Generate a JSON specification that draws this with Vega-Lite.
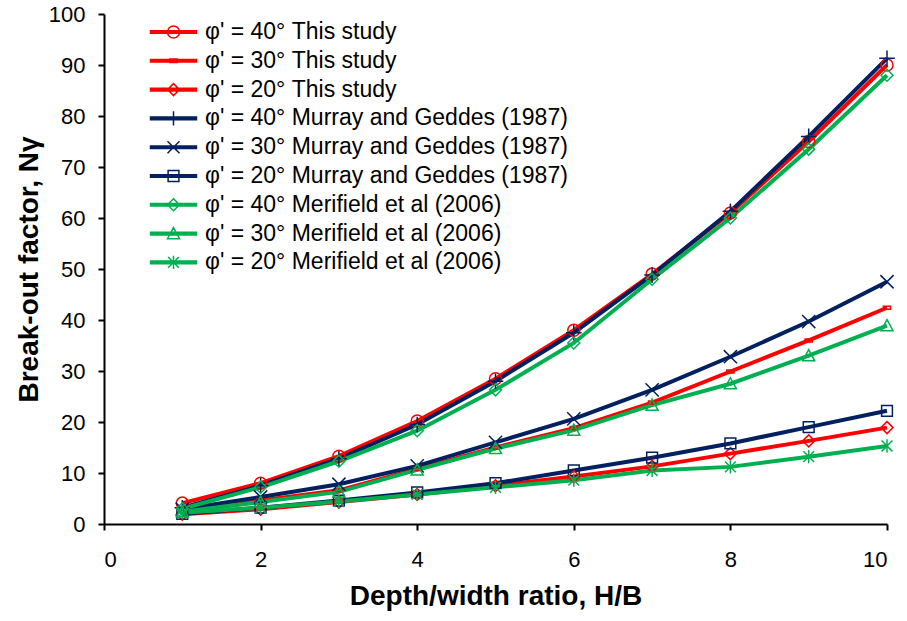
{
  "$schema": "https://vega.github.io/schema/vega-lite/v6.json",
  "width": 783,
  "height": 510,
  "autosize": "none",
  "padding": {"left": 104, "top": 14, "right": 20, "bottom": 97},
  "background": "white",
  "config": {
    "view": {"stroke": null},
    "font": "Liberation Sans",
    "axis": {
      "grid": false,
      "domainColor": "black",
      "domainWidth": 2,
      "tickColor": "black",
      "tickWidth": 2,
      "tickSize": 6,
      "labelFont": "Liberation Sans",
      "labelFontSize": 22,
      "labelColor": "black",
      "titleFont": "Liberation Sans",
      "titleFontSize": 28,
      "titleFontWeight": "bold",
      "titleColor": "black"
    },
    "point": {"filled": false, "strokeWidth": 1.5, "size": 144, "opacity": 1}
  },
  "data": {
    "values": [
      {"s": "φ' = 40° This study", "x": 1, "y": 4.1}, {"s": "φ' = 40° This study", "x": 2, "y": 8.0}, {"s": "φ' = 40° This study", "x": 3, "y": 13.3}, {"s": "φ' = 40° This study", "x": 4, "y": 20.2}, {"s": "φ' = 40° This study", "x": 5, "y": 28.5}, {"s": "φ' = 40° This study", "x": 6, "y": 38.0}, {"s": "φ' = 40° This study", "x": 7, "y": 49.0}, {"s": "φ' = 40° This study", "x": 8, "y": 61.0}, {"s": "φ' = 40° This study", "x": 9, "y": 75.0}, {"s": "φ' = 40° This study", "x": 10, "y": 90.0},
      {"s": "φ' = 30° This study", "x": 1, "y": 2.5}, {"s": "φ' = 30° This study", "x": 2, "y": 4.6}, {"s": "φ' = 30° This study", "x": 3, "y": 6.6}, {"s": "φ' = 30° This study", "x": 4, "y": 10.8}, {"s": "φ' = 30° This study", "x": 5, "y": 15.0}, {"s": "φ' = 30° This study", "x": 6, "y": 18.8}, {"s": "φ' = 30° This study", "x": 7, "y": 23.8}, {"s": "φ' = 30° This study", "x": 8, "y": 29.9}, {"s": "φ' = 30° This study", "x": 9, "y": 36.0}, {"s": "φ' = 30° This study", "x": 10, "y": 42.4},
      {"s": "φ' = 20° This study", "x": 1, "y": 1.9}, {"s": "φ' = 20° This study", "x": 2, "y": 2.9}, {"s": "φ' = 20° This study", "x": 3, "y": 4.3}, {"s": "φ' = 20° This study", "x": 4, "y": 5.8}, {"s": "φ' = 20° This study", "x": 5, "y": 7.5}, {"s": "φ' = 20° This study", "x": 6, "y": 9.3}, {"s": "φ' = 20° This study", "x": 7, "y": 11.3}, {"s": "φ' = 20° This study", "x": 8, "y": 13.8}, {"s": "φ' = 20° This study", "x": 9, "y": 16.3}, {"s": "φ' = 20° This study", "x": 10, "y": 18.9},
      {"s": "φ' = 40° Murray and Geddes (1987)", "x": 1, "y": 3.2}, {"s": "φ' = 40° Murray and Geddes (1987)", "x": 2, "y": 7.5}, {"s": "φ' = 40° Murray and Geddes (1987)", "x": 3, "y": 12.8}, {"s": "φ' = 40° Murray and Geddes (1987)", "x": 4, "y": 19.5}, {"s": "φ' = 40° Murray and Geddes (1987)", "x": 5, "y": 28.0}, {"s": "φ' = 40° Murray and Geddes (1987)", "x": 6, "y": 37.5}, {"s": "φ' = 40° Murray and Geddes (1987)", "x": 7, "y": 48.8}, {"s": "φ' = 40° Murray and Geddes (1987)", "x": 8, "y": 61.3}, {"s": "φ' = 40° Murray and Geddes (1987)", "x": 9, "y": 76.0}, {"s": "φ' = 40° Murray and Geddes (1987)", "x": 10, "y": 91.3},
      {"s": "φ' = 30° Murray and Geddes (1987)", "x": 1, "y": 2.9}, {"s": "φ' = 30° Murray and Geddes (1987)", "x": 2, "y": 5.3}, {"s": "φ' = 30° Murray and Geddes (1987)", "x": 3, "y": 7.8}, {"s": "φ' = 30° Murray and Geddes (1987)", "x": 4, "y": 11.4}, {"s": "φ' = 30° Murray and Geddes (1987)", "x": 5, "y": 16.0}, {"s": "φ' = 30° Murray and Geddes (1987)", "x": 6, "y": 20.6}, {"s": "φ' = 30° Murray and Geddes (1987)", "x": 7, "y": 26.3}, {"s": "φ' = 30° Murray and Geddes (1987)", "x": 8, "y": 32.8}, {"s": "φ' = 30° Murray and Geddes (1987)", "x": 9, "y": 39.7}, {"s": "φ' = 30° Murray and Geddes (1987)", "x": 10, "y": 47.5},
      {"s": "φ' = 20° Murray and Geddes (1987)", "x": 1, "y": 2.0}, {"s": "φ' = 20° Murray and Geddes (1987)", "x": 2, "y": 3.2}, {"s": "φ' = 20° Murray and Geddes (1987)", "x": 3, "y": 4.6}, {"s": "φ' = 20° Murray and Geddes (1987)", "x": 4, "y": 6.2}, {"s": "φ' = 20° Murray and Geddes (1987)", "x": 5, "y": 8.0}, {"s": "φ' = 20° Murray and Geddes (1987)", "x": 6, "y": 10.5}, {"s": "φ' = 20° Murray and Geddes (1987)", "x": 7, "y": 13.0}, {"s": "φ' = 20° Murray and Geddes (1987)", "x": 8, "y": 15.8}, {"s": "φ' = 20° Murray and Geddes (1987)", "x": 9, "y": 19.0}, {"s": "φ' = 20° Murray and Geddes (1987)", "x": 10, "y": 22.2},
      {"s": "φ' = 40° Merifield et al (2006)", "x": 1, "y": 3.0}, {"s": "φ' = 40° Merifield et al (2006)", "x": 2, "y": 7.2}, {"s": "φ' = 40° Merifield et al (2006)", "x": 3, "y": 12.3}, {"s": "φ' = 40° Merifield et al (2006)", "x": 4, "y": 18.3}, {"s": "φ' = 40° Merifield et al (2006)", "x": 5, "y": 26.3}, {"s": "φ' = 40° Merifield et al (2006)", "x": 6, "y": 35.5}, {"s": "φ' = 40° Merifield et al (2006)", "x": 7, "y": 48.0}, {"s": "φ' = 40° Merifield et al (2006)", "x": 8, "y": 60.0}, {"s": "φ' = 40° Merifield et al (2006)", "x": 9, "y": 73.5}, {"s": "φ' = 40° Merifield et al (2006)", "x": 10, "y": 88.0},
      {"s": "φ' = 30° Merifield et al (2006)", "x": 1, "y": 2.4}, {"s": "φ' = 30° Merifield et al (2006)", "x": 2, "y": 4.3}, {"s": "φ' = 30° Merifield et al (2006)", "x": 3, "y": 6.3}, {"s": "φ' = 30° Merifield et al (2006)", "x": 4, "y": 10.6}, {"s": "φ' = 30° Merifield et al (2006)", "x": 5, "y": 14.8}, {"s": "φ' = 30° Merifield et al (2006)", "x": 6, "y": 18.4}, {"s": "φ' = 30° Merifield et al (2006)", "x": 7, "y": 23.3}, {"s": "φ' = 30° Merifield et al (2006)", "x": 8, "y": 27.5}, {"s": "φ' = 30° Merifield et al (2006)", "x": 9, "y": 33.0}, {"s": "φ' = 30° Merifield et al (2006)", "x": 10, "y": 38.9},
      {"s": "φ' = 20° Merifield et al (2006)", "x": 1, "y": 2.2}, {"s": "φ' = 20° Merifield et al (2006)", "x": 2, "y": 3.2}, {"s": "φ' = 20° Merifield et al (2006)", "x": 3, "y": 4.4}, {"s": "φ' = 20° Merifield et al (2006)", "x": 4, "y": 5.8}, {"s": "φ' = 20° Merifield et al (2006)", "x": 5, "y": 7.2}, {"s": "φ' = 20° Merifield et al (2006)", "x": 6, "y": 8.6}, {"s": "φ' = 20° Merifield et al (2006)", "x": 7, "y": 10.5}, {"s": "φ' = 20° Merifield et al (2006)", "x": 8, "y": 11.2}, {"s": "φ' = 20° Merifield et al (2006)", "x": 9, "y": 13.2}, {"s": "φ' = 20° Merifield et al (2006)", "x": 10, "y": 15.3}
    ]
  },
  "encoding": {
    "x": {
      "field": "x", "type": "quantitative",
      "scale": {"domain": [0, 10], "nice": false},
      "axis": {"values": [0, 2, 4, 6, 8, 10], "title": "Depth/width ratio, H/B", "labelPadding": 19, "titlePadding": 12}
    },
    "y": {
      "field": "y", "type": "quantitative",
      "scale": {"domain": [0, 100], "nice": false},
      "axis": {"values": [0, 10, 20, 30, 40, 50, 60, 70, 80, 90, 100], "title": "Break-out factor, Nγ", "labelPadding": 13, "titlePadding": 5}
    },
    "color": {
      "field": "s", "type": "nominal",
      "scale": {
        "domain": ["φ' = 40° This study", "φ' = 30° This study", "φ' = 20° This study", "φ' = 40° Murray and Geddes (1987)", "φ' = 30° Murray and Geddes (1987)", "φ' = 20° Murray and Geddes (1987)", "φ' = 40° Merifield et al (2006)", "φ' = 30° Merifield et al (2006)", "φ' = 20° Merifield et al (2006)"],
        "range": ["#FF0000", "#FF0000", "#FF0000", "#002060", "#002060", "#002060", "#00B050", "#00B050", "#00B050"]
      },
      "legend": {
        "title": null,
        "orient": "none",
        "legendX": 46,
        "legendY": 6.5,
        "padding": 0,
        "symbolSize": 144,
        "symbolOffset": 12,
        "labelOffset": 20,
        "labelFont": "Liberation Sans",
        "labelFontSize": 23,
        "labelColor": "black",
        "labelLimit": 600,
        "rowPadding": 4.8,
        "symbolStrokeWidth": 1.5,
        "encode": {
          "symbols": {
            "update": {
              "shape": {"signal": "['M-3.83,-0.22H3.83V0.22H-3.83Z M-3.83,0H3.83 M1,0A1,1,0,1,1,-1,0A1,1,0,1,1,1,0Z', 'M-3.83,-0.22H3.83V0.22H-3.83Z M-3.83,0H3.83 M-0.6,-0.3H0.6V0.3H-0.6Z', 'M-3.83,-0.22H3.83V0.22H-3.83Z M-3.83,0H3.83 M0,-1L1,0L0,1L-1,0Z', 'M-3.83,-0.22H3.83V0.22H-3.83Z M-3.83,0H3.83 M0,-1.2L0,1.2', 'M-3.83,-0.22H3.83V0.22H-3.83Z M-3.83,0H3.83 M-1,-1L1,1M-1,1L1,-1', 'M-3.83,-0.22H3.83V0.22H-3.83Z M-3.83,0H3.83 M-0.9,-0.9H0.9V0.9H-0.9Z', 'M-3.83,-0.22H3.83V0.22H-3.83Z M-3.83,0H3.83 M0,-1L1,0L0,1L-1,0Z', 'M-3.83,-0.22H3.83V0.22H-3.83Z M-3.83,0H3.83 M0,-1L1,0.85L-1,0.85Z', 'M-3.83,-0.22H3.83V0.22H-3.83Z M-3.83,0H3.83 M-0.9,-0.9L0.9,0.9M-0.9,0.9L0.9,-0.9M0,-1.1L0,1.1'][indexof(domain('color'), datum.value)]"},
              "fill": {"value": "transparent"},
              "strokeWidth": {"value": 1.5},
              "size": {"value": 144}
            }
          }
        }
      }
    }
  },
  "layer": [
    {
      "mark": {"type": "line", "strokeWidth": 4, "interpolate": "linear"},
      "encoding": {"detail": {"field": "s"}}
    },
    {
      "transform": [{"filter": {"field": "s", "equal": "φ' = 40° This study"}}],
      "mark": {"type": "point", "shape": "circle"}
    },
    {
      "transform": [{"filter": {"field": "s", "equal": "φ' = 30° This study"}}],
      "mark": {"type": "point", "shape": "M-0.6,-0.25H0.6V0.25H-0.6Z"}
    },
    {
      "transform": [{"filter": {"field": "s", "equal": "φ' = 20° This study"}}],
      "mark": {"type": "point", "shape": "M0,-1L1,0L0,1L-1,0Z"}
    },
    {
      "transform": [{"filter": {"field": "s", "equal": "φ' = 40° Murray and Geddes (1987)"}}],
      "mark": {"type": "point", "shape": "M-1.3,0L1.3,0M0,-1.3L0,1.3"}
    },
    {
      "transform": [{"filter": {"field": "s", "equal": "φ' = 30° Murray and Geddes (1987)"}}],
      "mark": {"type": "point", "shape": "M-1.1,-1.1L1.1,1.1M-1.1,1.1L1.1,-1.1"}
    },
    {
      "transform": [{"filter": {"field": "s", "equal": "φ' = 20° Murray and Geddes (1987)"}}],
      "mark": {"type": "point", "shape": "M-0.9,-0.9H0.9V0.9H-0.9Z"}
    },
    {
      "transform": [{"filter": {"field": "s", "equal": "φ' = 40° Merifield et al (2006)"}}],
      "mark": {"type": "point", "shape": "M0,-1L1,0L0,1L-1,0Z"}
    },
    {
      "transform": [{"filter": {"field": "s", "equal": "φ' = 30° Merifield et al (2006)"}}],
      "mark": {"type": "point", "shape": "M0,-1L1,0.85L-1,0.85Z"}
    },
    {
      "transform": [{"filter": {"field": "s", "equal": "φ' = 20° Merifield et al (2006)"}}],
      "mark": {"type": "point", "shape": "M-0.9,-0.9L0.9,0.9M-0.9,0.9L0.9,-0.9M0,-1.1L0,1.1"}
    }
  ]
}
